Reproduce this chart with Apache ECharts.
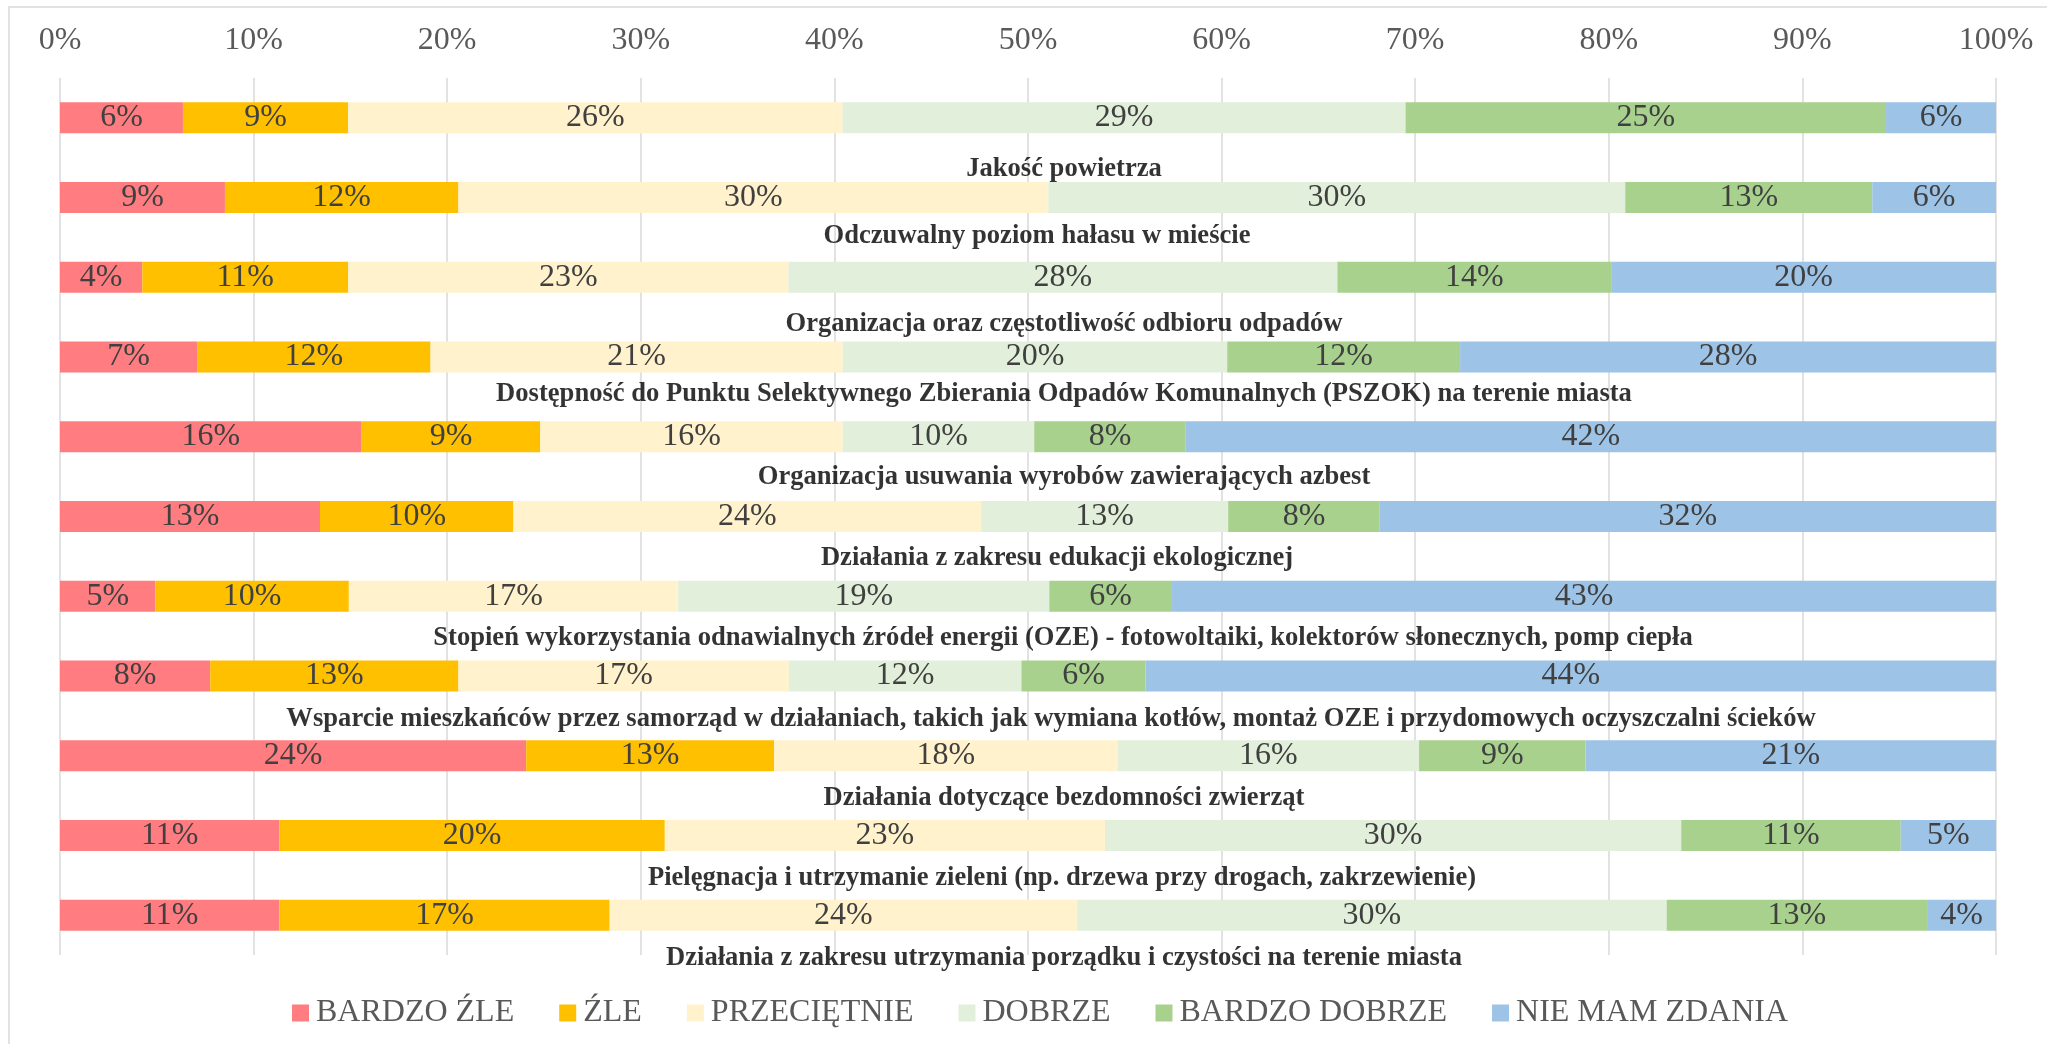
<!DOCTYPE html>
<html lang="pl">
<head>
<meta charset="utf-8">
<title>Ocena działań</title>
<script src="https://cdn.jsdelivr.net/npm/echarts@6.0.0/dist/echarts.min.js"></script>
<style>
  html, body { margin: 0; padding: 0; background: #ffffff; }
  #chart { width: 2047px; height: 1044px; }
</style>
</head>
<body>
<div id="chart"></div>
<script>
// Survey topics, top to bottom
const categories = [
  'Jakość powietrza',
  'Odczuwalny poziom hałasu w mieście',
  'Organizacja oraz częstotliwość odbioru odpadów',
  'Dostępność do Punktu Selektywnego Zbierania Odpadów Komunalnych (PSZOK) na terenie miasta',
  'Organizacja usuwania wyrobów zawierających azbest',
  'Działania z zakresu edukacji ekologicznej',
  'Stopień wykorzystania odnawialnych źródeł energii (OZE) - fotowoltaiki, kolektorów słonecznych, pomp ciepła',
  'Wsparcie mieszkańców przez samorząd w działaniach, takich jak wymiana kotłów, montaż OZE i przydomowych oczyszczalni ścieków',
  'Działania dotyczące bezdomności zwierząt',
  'Pielęgnacja i utrzymanie zieleni (np. drzewa przy drogach, zakrzewienie)',
  'Działania z zakresu utrzymania porządku i czystości na terenie miasta'
];

// Answer shares (% of respondents) per topic
const bardzoZle     = [6.35, 8.52, 4.25, 7.08, 15.58, 13.43, 4.93, 7.76, 24.08, 11.34, 11.33];
const zle           = [8.53, 12.06, 10.64, 12.06, 9.23, 9.99, 9.99, 12.82, 12.80, 19.90, 17.06];
const przecietnie   = [25.54, 30.47, 22.74, 21.29, 15.62, 24.16, 17.01, 17.07, 17.74, 22.74, 24.15];
const dobrze        = [29.08, 29.80, 28.35, 19.86, 9.89, 12.76, 19.17, 12.01, 15.58, 29.76, 30.45];
const bardzoDobrze  = [24.82, 12.76, 14.14, 12.03, 7.83, 7.83, 6.34, 6.41, 8.60, 11.34, 13.45];
const nieMamZdania  = [5.68, 6.39, 19.88, 27.68, 41.85, 31.83, 42.56, 43.93, 21.20, 4.92, 3.56];

// Axis ticks
const tickValues = [0, 10, 20, 30, 40, 50, 60, 70, 80, 90, 100];

const seriesNames = ['BARDZO ŹLE', 'ŹLE', 'PRZECIĘTNIE', 'DOBRZE', 'BARDZO DOBRZE', 'NIE MAM ZDANIA'];
const seriesValues = [bardzoZle, zle, przecietnie, dobrze, bardzoDobrze, nieMamZdania];
const seriesColors = ['#FF7C80', '#FFC000', '#FFF2CC', '#E2EFDA', '#A9D18E', '#9DC3E6'];

// caption placement under each bar: horizontal shift and vertical drop (px)
const captionShift = [36, 9, 36, 36, 36, 29, 35, 23, 36, 34, 36];
const captionDrop  = [51, 39, 47, 37, 40, 42, 42, 43, 42, 43, 43];

const FONT = '"Liberation Serif", "Times New Roman", serif';

const chart = echarts.init(document.getElementById('chart'), null, { renderer: 'canvas' });

const barSeries = seriesNames.map((name, i) => ({
  name: name,
  type: 'bar',
  stack: 'total',
  barWidth: 31,
  data: seriesValues[i],
  itemStyle: { color: seriesColors[i] },
  label: {
    show: true,
    position: 'inside',
    color: '#404040',
    fontFamily: FONT,
    fontSize: 32,
    formatter: p => Math.round(p.value) + '%'
  },
  emphasis: { disabled: true }
}));

// topic captions placed under each bar, around the middle of the plot
const captionSeries = {
  name: 'captions',
  type: 'scatter',
  silent: true,
  symbolSize: 1,
  itemStyle: { color: 'rgba(0,0,0,0)' },
  data: categories.map((c, i) => ({
    value: [tickValues[5], i],
    label: { offset: [captionShift[i], captionDrop[i]] }
  })),
  label: {
    show: true,
    position: 'inside',
    color: '#000000',
    fontFamily: FONT,
    fontWeight: 'bold',
    fontSize: 26.6,
    formatter: p => categories[p.dataIndex]
  },
  z: 5
};

chart.setOption({
  animation: false,
  backgroundColor: '#ffffff',
  textStyle: { fontFamily: FONT },
  graphic: [{
    type: 'rect',
    silent: true,
    shape: { x: 9, y: 7, width: 2100, height: 1100 },
    style: { fill: 'none', stroke: '#D9D9D9', lineWidth: 1.5 }
  }],
  grid: {
    left: 60,
    right: 51,
    top: 78,
    bottom: 89,
    containLabel: false,
    outerBoundsMode: 'none'
  },
  legend: {
    data: seriesNames,
    left: 287,
    top: 992,
    icon: 'rect',
    itemWidth: 17,
    itemHeight: 17,
    itemGap: 45,
    textStyle: { color: '#595959', fontFamily: FONT, fontSize: 32, padding: [0, 0, 0, 2] },
    selectedMode: false
  },
  xAxis: {
    type: 'value',
    position: 'top',
    min: tickValues[0],
    max: tickValues[tickValues.length - 1],
    interval: tickValues[1] - tickValues[0],
    axisLine: { show: false },
    axisTick: { show: false },
    axisLabel: {
      color: '#595959',
      fontFamily: FONT,
      fontSize: 32,
      margin: 21,
      formatter: '{value}%'
    },
    splitLine: { show: true, lineStyle: { color: '#D9D9D9', width: 1.5 } }
  },
  yAxis: {
    type: 'category',
    inverse: true,
    data: categories,
    axisLine: { show: false },
    axisTick: { show: false },
    axisLabel: { show: false },
    splitLine: { show: false }
  },
  series: barSeries.concat([captionSeries])
});
</script>
</body>
</html>
